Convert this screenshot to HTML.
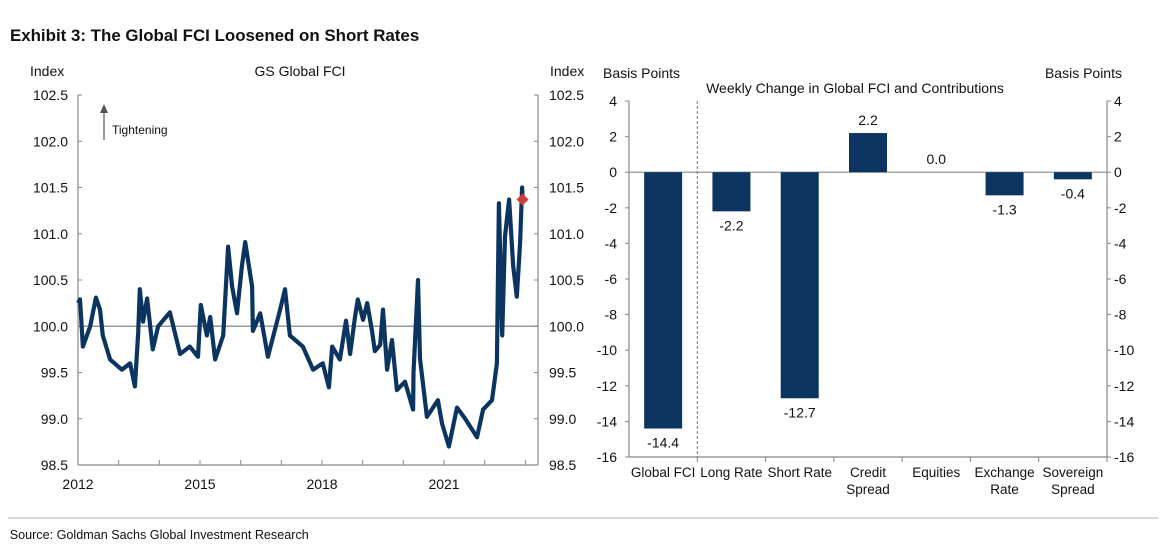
<!DOCTYPE html>
<html><head><meta charset="utf-8"><style>
body{margin:0;background:#fff;font-family:"Liberation Sans",sans-serif;}
svg text{font-family:"Liberation Sans",sans-serif;fill:#111;}
</style></head><body>
<svg width="1164" height="553" viewBox="0 0 1164 553" xmlns="http://www.w3.org/2000/svg">
<text x="10" y="41" font-size="17" font-weight="bold" transform="scale(0.995,1)">Exhibit 3: The Global FCI Loosened on Short Rates</text>
<g id="left"></g>
<g id="right"></g>
<line x1="8" y1="518" x2="1158" y2="518" stroke="#ccc" stroke-width="1.5"/>
<text x="10" y="539" font-size="13" fill="#333" transform="scale(0.97,1)">Source: Goldman Sachs Global Investment Research</text>
</svg>
<script>
const NS='http://www.w3.org/2000/svg';
function mk(p,t,a){const e=document.createElementNS(NS,t);for(const k in a)e.setAttribute(k,a[k]);p.appendChild(e);return e;}
// ---- left chart data ----
const fciDates=[2012.0,2012.05,2012.12,2012.30,2012.44,2012.54,2012.61,2012.79,2013.08,2013.28,2013.40,2013.48,2013.52,2013.60,2013.70,2013.84,2013.97,2014.26,2014.51,2014.75,2014.95,2015.02,2015.17,2015.25,2015.37,2015.57,2015.69,2015.79,2015.91,2016.03,2016.11,2016.28,2016.30,2016.48,2016.67,2016.97,2017.09,2017.21,2017.53,2017.78,2018.02,2018.17,2018.25,2018.44,2018.59,2018.69,2018.81,2018.88,2019.01,2019.11,2019.23,2019.30,2019.43,2019.50,2019.60,2019.72,2019.84,2020.04,2020.24,2020.25,2020.36,2020.41,2020.58,2020.85,2020.95,2021.12,2021.32,2021.52,2021.81,2021.96,2022.18,2022.30,2022.35,2022.43,2022.50,2022.60,2022.70,2022.79,2022.87,2022.92,2022.93];
const fciValues=[100.25,100.29,99.78,100.0,100.31,100.18,99.9,99.64,99.53,99.6,99.35,99.93,100.4,100.05,100.3,99.75,100.0,100.15,99.7,99.78,99.67,100.23,99.9,100.1,99.64,99.9,100.86,100.43,100.14,100.65,100.91,100.43,99.95,100.14,99.67,100.18,100.4,99.9,99.78,99.53,99.6,99.34,99.78,99.64,100.06,99.7,100.1,100.29,100.07,100.25,99.95,99.73,99.8,100.18,99.53,99.85,99.31,99.4,99.1,99.5,100.5,99.65,99.02,99.2,98.95,98.7,99.12,99.0,98.8,99.1,99.2,99.6,101.33,99.9,100.97,101.37,100.65,100.32,100.9,101.5,101.37];
const latestDate=2022.93, latestValue=101.37;
const yTicksL=[98.5,99.0,99.5,100.0,100.5,101.0,101.5,102.0,102.5];
const xTickYears=[2012,2015,2018,2021];
// ---- right chart data ----
const categories=[['Global FCI'],['Long Rate'],['Short Rate'],['Credit','Spread'],['Equities'],['Exchange','Rate'],['Sovereign','Spread']];
const changes=[-14.4,-2.2,-12.7,2.2,0.0,-1.3,-0.4];
const yTicksR=[4,2,0,-2,-4,-6,-8,-10,-12,-14,-16];

const L=document.getElementById('left');
const xL=y=>78+(y-2012)*40.67, yL=v=>95+(102.5-v)*92.5;
mk(L,'line',{x1:78,y1:95,x2:78,y2:465,stroke:'#888','stroke-width':1.2});
mk(L,'line',{x1:538,y1:95,x2:538,y2:465,stroke:'#888','stroke-width':1.2});
mk(L,'line',{x1:78,y1:465,x2:538,y2:465,stroke:'#888','stroke-width':1.2});
mk(L,'line',{x1:78,y1:yL(100),x2:538,y2:yL(100),stroke:'#999','stroke-width':1.5});
yTicksL.forEach(v=>{const y=yL(v);
 mk(L,'line',{x1:78,y1:y,x2:82,y2:y,stroke:'#888'});mk(L,'line',{x1:534,y1:y,x2:538,y2:y,stroke:'#888'});
 let t=mk(L,'text',{x:68,y:y+5,'font-size':14,'text-anchor':'end'});t.textContent=v.toFixed(1);
 
 t=mk(L,'text',{x:549,y:y+5,'font-size':14});t.textContent=v.toFixed(1);
 });
for(let yr=2012;yr<=2023;yr++){const x=xL(yr);mk(L,'line',{x1:x,y1:465,x2:x,y2:460,stroke:'#888'});}
xTickYears.forEach(yr=>{const t=mk(L,'text',{x:xL(yr),y:489,'font-size':14,'text-anchor':'middle'});t.textContent=yr;
 });
[['Index',30,76,'start','left-axis-title'],['GS Global FCI',300,76,'middle','chart-title'],['Index',550,76,'start','right-axis-title']].forEach(a=>{const t=mk(L,'text',{x:a[1],y:a[2],'font-size':14,'text-anchor':a[3]});t.textContent=a[0];
 });
mk(L,'line',{x1:104,y1:140,x2:104,y2:111,stroke:'#555','stroke-width':1.2});
mk(L,'path',{d:'M100,113 L104,104 L108,113 Z',fill:'#555'});
const tt=mk(L,'text',{x:112,y:134,'font-size':12});tt.textContent='Tightening';

const path=mk(L,'path',{d:fciDates.map((d,i)=>(i?'L':'M')+xL(d).toFixed(1)+','+yL(fciValues[i]).toFixed(1)).join(' '),fill:'none',stroke:'#0b3560','stroke-width':4.2,'stroke-linejoin':'round'});

const mx=xL(latestDate),my=yL(latestValue);
const mk1=mk(L,'path',{d:`M${mx},${my-6} L${mx+6},${my} L${mx},${my+6} L${mx-6},${my} Z`,fill:'#d23c3c'});


const R=document.getElementById('right');
const x0=629,x1=1107,step=(x1-x0)/categories.length;
const yR=v=>101+(4-v)*17.8;
mk(R,'line',{x1:x0,y1:101,x2:x0,y2:457,stroke:'#888','stroke-width':1.2});
mk(R,'line',{x1:x1,y1:101,x2:x1,y2:457,stroke:'#888','stroke-width':1.2});
mk(R,'line',{x1:x0,y1:457,x2:x1,y2:457,stroke:'#888','stroke-width':1.2});
mk(R,'line',{x1:x0,y1:yR(0),x2:x1,y2:yR(0),stroke:'#888','stroke-width':1.2});
mk(R,'line',{x1:x0+step,y1:101,x2:x0+step,y2:457,stroke:'#777','stroke-dasharray':'3,2'});
yTicksR.forEach(v=>{const y=yR(v);
 mk(R,'line',{x1:x0-4,y1:y,x2:x0,y2:y,stroke:'#888'});mk(R,'line',{x1:x1,y1:y,x2:x1+4,y2:y,stroke:'#888'});
 let t=mk(R,'text',{x:617,y:y+5,'font-size':14,'text-anchor':'end'});t.textContent=v;
 
 t=mk(R,'text',{x:1114,y:y+5,'font-size':14});t.textContent=v;
 });
categories.forEach((c,i)=>{const cx=x0+step*(i+0.5),v=changes[i];
 mk(R,'line',{x1:x0+step*(i+1),y1:457,x2:x0+step*(i+1),y2:462,stroke:'#888'});
 const b=mk(R,'rect',{x:cx-19,y:Math.min(yR(v),yR(0)),width:38,height:Math.abs(yR(v)-yR(0)),fill:'#0b3560'});
 
 const ly=v>=0?yR(v)-8:yR(v)+19;
 const t=mk(R,'text',{x:cx,y:ly,'font-size':14,'text-anchor':'middle'});t.textContent=v.toFixed(1);
 
 c.forEach((w,j)=>{const tl=mk(R,'text',{x:cx,y:477+j*17,'font-size':13.5,'text-anchor':'middle'});tl.textContent=w;
  });
});
[['Basis Points',603,78,'start','bar-left-axis-title'],['Weekly Change in Global FCI and Contributions',855,93,'middle','bar-chart-title'],['Basis Points',1122,78,'end','bar-right-axis-title']].forEach(a=>{const t=mk(R,'text',{x:a[1],y:a[2],'font-size':14,'text-anchor':a[3]});t.textContent=a[0];
 });
</script>
</body></html>
